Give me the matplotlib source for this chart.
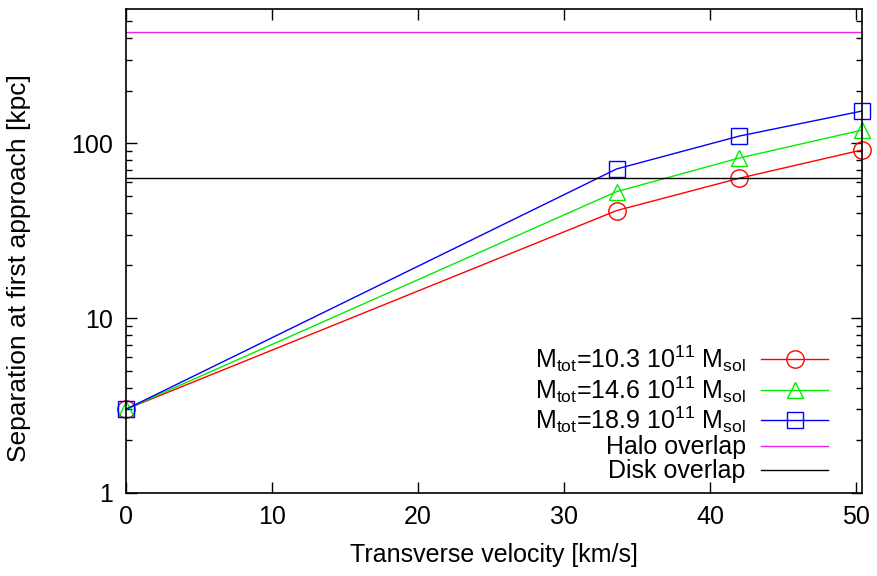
import matplotlib
matplotlib.use('Agg')
import matplotlib.pyplot as plt
from matplotlib.ticker import FixedLocator, FixedFormatter, NullFormatter, LogLocator
import numpy as np

plt.rcParams['font.family'] = ['Liberation Sans', 'DejaVu Sans']
plt.rcParams['mathtext.fontset'] = 'custom'
plt.rcParams['mathtext.rm'] = 'Liberation Sans'
plt.rcParams['mathtext.it'] = 'Liberation Sans'

# transverse velocity [km/s]
v_trans = [0.0, 33.6, 42.0, 50.4]
# separation at first approach [kpc]
sep_m103 = [3.0, 41.2, 63.1, 91.6]
sep_m146 = [3.0, 52.9, 82.4, 119.0]
sep_m189 = [3.0, 71.3, 110.0, 153.0]
halo_overlap = 432.0
disk_overlap = 63.1

labels = [r'M$_{\mathrm{tot}}$=10.3 10$^{11}$ M$_{\mathrm{sol}}$',
          r'M$_{\mathrm{tot}}$=14.6 10$^{11}$ M$_{\mathrm{sol}}$',
          r'M$_{\mathrm{tot}}$=18.9 10$^{11}$ M$_{\mathrm{sol}}$',
          'Halo overlap', 'Disk overlap']

fs = 18

fig = plt.figure(figsize=(8.78, 5.76), dpi=100)
ax = fig.add_axes([0.1432, 0.1446, 0.9818 - 0.1432, 0.9839 - 0.1446])

ax.plot(v_trans, sep_m103, color='#ff0000', lw=1.0, marker='o', ms=12.5,
        mfc='none', mec='#ff0000', mew=1.0, label=labels[0], clip_on=False)
ax.plot(v_trans, sep_m146, color='#00ee00', lw=1.0, marker='^', ms=12,
        mfc='none', mec='#00ee00', mew=1.0, label=labels[1], clip_on=False)
ax.plot(v_trans, sep_m189, color='#0000ff', lw=1.0, marker='s', ms=12,
        mfc='none', mec='#0000ff', mew=1.0, label=labels[2], clip_on=False)
ax.axhline(halo_overlap, color='#ee22ee', lw=1.0, label=labels[3])
ax.axhline(disk_overlap, color='black', lw=1.0, label=labels[4])

ax.set_yscale('log')
ax.set_xlim(0, 50.4)
ax.set_ylim(1, 585)

ax.xaxis.set_major_locator(FixedLocator([0, 10, 20, 30, 40, 50]))
ax.yaxis.set_major_locator(FixedLocator([1, 10, 100]))
ax.yaxis.set_major_formatter(FixedFormatter(['1', '10', '100']))
ax.yaxis.set_minor_locator(LogLocator(base=10, subs=np.arange(2, 10)))
ax.yaxis.set_minor_formatter(NullFormatter())

ax.tick_params(which='both', direction='in', top=True, right=True,
               labelsize=fs, pad=9, width=1)
ax.tick_params(which='major', length=8)
ax.tick_params(which='minor', length=4)
for sp in ax.spines.values():
    sp.set_linewidth(1.2)

ax.set_xlabel('Transverse velocity [km/s]', fontsize=fs, labelpad=10)
ax.set_ylabel('Separation at first approach [kpc]', fontsize=19)
ax.yaxis.set_label_coords(-0.128, 0.465)

leg = ax.legend(loc='lower right', bbox_to_anchor=(0.978, -0.017), frameon=False,
                markerfirst=False, fontsize=fs, handlelength=2.7,
                handletextpad=0.6, labelspacing=0.0, borderpad=0.2)

fig.savefig('out.png', dpi=100)
